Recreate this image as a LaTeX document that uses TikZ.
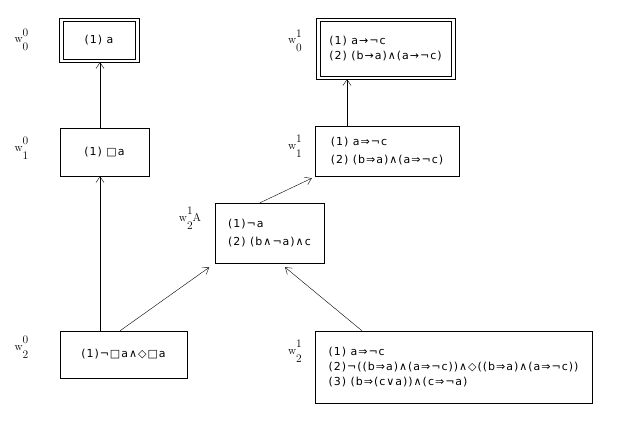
\documentclass[tikz,border=0pt]{standalone}
\usepackage{fontspec}
\newfontfamily\boxfont[LetterSpace=9]{DejaVu Sans}
\usetikzlibrary{arrows.meta,calc}
% world name: small w with raised and lowered digits
\newcommand{\wname}[2]{w\rlap{\raisebox{6.5pt}{#1}}\raisebox{-8pt}{#2}}

\begin{document}
\begin{tikzpicture}[
      x=1pt, y=1pt,
      font=\boxfont\fontsize{11}{18}\selectfont,
      world/.style={draw, align=left, inner sep=0pt},
      wlbl/.style={font=\fontsize{11.5}{14}\selectfont, inner sep=0pt},
      arrow/.style={-{Straight Barb[length=6pt, width=8pt]}}
    ]
    \useasboundingbox (0,0) rectangle (622,-427);

    % column 0
    \node[world, minimum width=80pt, minimum height=44pt] (w00) at (99,-40) {(1) a};
    \node[world, minimum width=89pt, minimum height=48pt] (w10) at (104.5,-152) {(1) □a};
    \node[world, minimum width=127pt, minimum height=47pt] (w20) at (123.5,-354.5) {(1)¬□a∧◇□a};

    % column 1
    \node[world, minimum width=139pt, minimum height=61pt, font=\boxfont\fontsize{11}{15}\selectfont] (w01) at (385.5,-48.5)
      {(1) a→¬c\\(2) (b→a)∧(a→¬c)};
    \node[world, minimum width=144pt, minimum height=50pt] (w11) at (387,-151)
      {(1) a⇒¬c\\(2) (b⇒a)∧(a⇒¬c)};
    \node[world, minimum width=109pt, minimum height=60pt] (w21a) at (269.5,-233)
      {(1)¬a\\(2) (b∧¬a)∧c};
    \node[world, minimum width=277pt, minimum height=72pt, font=\boxfont\fontsize{11}{15}\selectfont] (w21) at (453.5,-367)
      {(1) a⇒¬c\\(2)¬((b⇒a)∧(a⇒¬c))∧◇((b⇒a)∧(a⇒¬c))\\(3) (b⇒(c∨a))∧(c⇒¬a)};

    % inner frame of the final worlds
    \foreach \n in {w00,w01}
      \draw ($(\n.south west)+(4,3)$) rectangle ($(\n.north east)+(-4,-3)$);

    % world labels
    \node[wlbl] (l00)  at (21.5,-40)  {\wname00};
    \node[wlbl] (l10)  at (21.5,-148) {\wname01};
    \node[wlbl] (l20)  at (21.5,-347) {\wname02};
    \node[wlbl] (l01)  at (295,-41)   {\wname10};
    \node[wlbl] (l11)  at (295,-146)  {\wname11};
    \node[wlbl] (l21a) at (190,-218)  {\wname12A};
    \node[wlbl] (l21)  at (295,-351)  {\wname12};

    % accessibility
    \draw[arrow] ($(w10.north)+(-4.5,0)$) -- ($(w00.south)+(1,0)$);
    \draw[arrow] ($(w20.north)+(-23.5,0)$) -- ($(w10.south)+(-4.5,0)$);
    \draw[arrow, shorten >=2pt] ($(w20.north)+(-3.5,0)$) -- ($(w21a.south west)+(-4,-3)$);
    \draw[arrow] ($(w21a.north)+(-9.5,0)$) -- ($(w11.south west)+(-3,-2)$);
    \draw[arrow] ($(w11.north)+(-40,0)$) -- ($(w01.south)+(-38.5,0)$);
    \draw[arrow] ($(w21.north)+(-91.5,0)$) -- ($(w21a.south)+(15.5,-4)$);
\end{tikzpicture}
\end{document}
